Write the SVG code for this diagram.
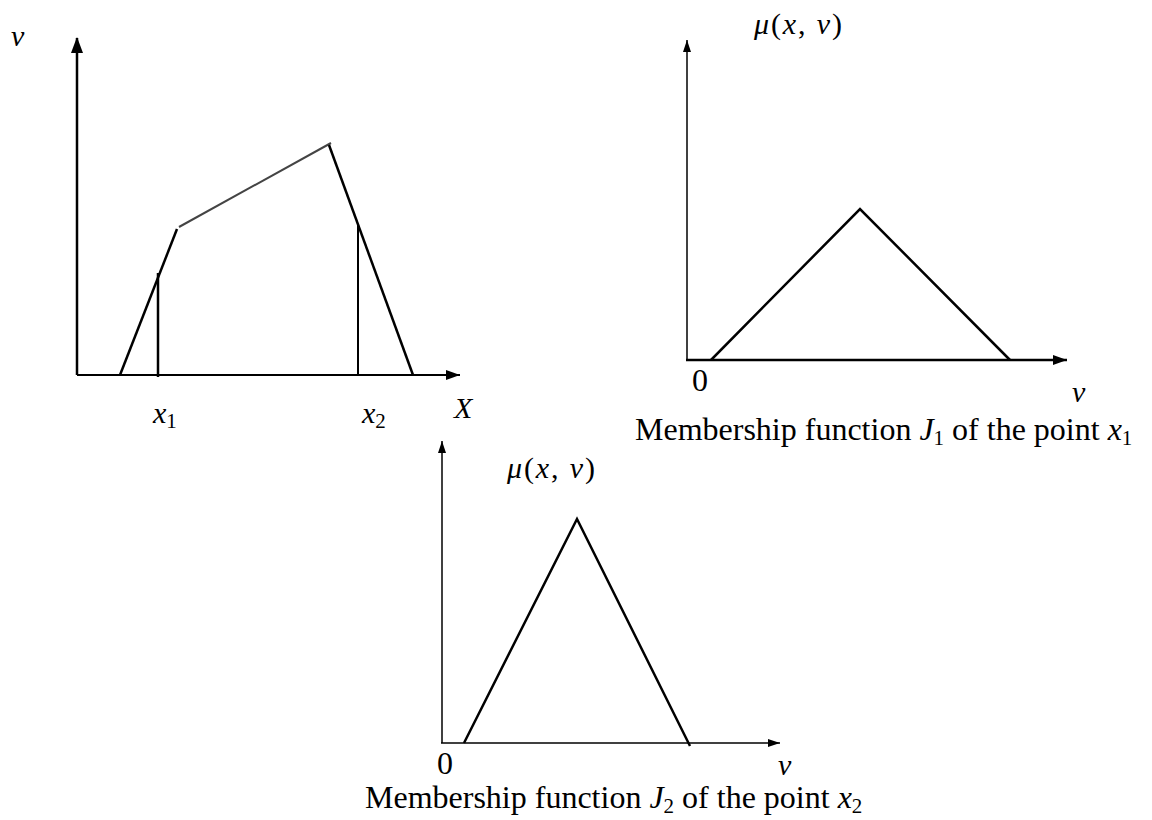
<svg xmlns="http://www.w3.org/2000/svg" width="1152" height="820" viewBox="0 0 1152 820">
<style>
  text { font-family: "Liberation Serif", "Times New Roman", serif; fill: #000; }
  .m { font-style: italic; font-size: 30px; }
  .r { font-size: 32px; }
  .sub { font-style: normal; font-size: 21px; }
  .ax { stroke: #000; fill: none; }
  .curve { stroke: #000; stroke-width: 2.5; fill: none; stroke-linecap: butt; }
</style>
<defs>
  <marker id="ahL" viewBox="0 0 16 12" refX="15" refY="6" markerWidth="16" markerHeight="12" markerUnits="userSpaceOnUse" orient="auto">
    <path d="M0,0 L16,6 L0,12 z" fill="#000"/>
  </marker>
  <marker id="ahM" viewBox="0 0 14 10" refX="14" refY="5" markerWidth="14" markerHeight="10" markerUnits="userSpaceOnUse" orient="auto">
    <path d="M0,0 L14,5 L0,10 z" fill="#000"/>
  </marker>
  <marker id="ahS" viewBox="0 0 12 8" refX="12" refY="4" markerWidth="12" markerHeight="8" markerUnits="userSpaceOnUse" orient="auto">
    <path d="M0,0 L12,4 L0,8 z" fill="#000"/>
  </marker>
</defs>

<g id="connectors">
  <!-- left chart axes -->
  <line class="ax" x1="77" y1="375" x2="77" y2="38" stroke-width="2.5" marker-end="url(#ahL)"/>
  <line class="ax" x1="77" y1="375" x2="460" y2="375" stroke-width="2" stroke="#222" marker-end="url(#ahM)"/>
  <!-- top-right chart axes -->
  <line class="ax" x1="687" y1="360" x2="687" y2="40" stroke-width="1.5" marker-end="url(#ahS)"/>
  <line class="ax" x1="686" y1="360" x2="1067" y2="360" stroke-width="2.5" marker-end="url(#ahM)"/>
  <!-- bottom chart axes -->
  <line class="ax" x1="442" y1="743" x2="442" y2="441" stroke-width="1.5" marker-end="url(#ahS)"/>
  <line class="ax" x1="441" y1="743" x2="780" y2="743" stroke-width="1.5" marker-end="url(#ahS)"/>
</g>

<g id="left-chart">
  <line class="curve" x1="120" y1="375" x2="177" y2="229"/>
  <line x1="179" y1="227" x2="331" y2="143" stroke="#444" stroke-width="2"/>
  <line class="curve" x1="329" y1="145" x2="413" y2="375"/>
  <line class="curve" x1="158" y1="273" x2="158" y2="377"/>
  <line x1="358" y1="225" x2="358" y2="375" stroke="#000" stroke-width="2"/>
  <text class="m" x="11" y="46">v</text>
  <text class="m" x="153" y="423">x<tspan class="sub" dy="5">1</tspan></text>
  <text class="m" x="362" y="423">x<tspan class="sub" dy="5">2</tspan></text>
  <text class="m" x="454" y="418">X</text>
</g>

<g id="membership-J1">
  <polyline class="curve" points="711,360 860,209 1010,360"/>
  <text class="m" x="754" y="34" textLength="88" lengthAdjust="spacing">μ<tspan font-style="normal">(</tspan>x<tspan font-style="normal">,</tspan> v<tspan font-style="normal">)</tspan></text>
  <text class="r" x="692" y="391">0</text>
  <text class="m" x="1072" y="402">v</text>
  <text class="r" x="635" y="440">Membership function <tspan font-style="italic">J</tspan><tspan class="sub" dy="5">1</tspan><tspan dy="-5"> of the point </tspan><tspan font-style="italic">x</tspan><tspan class="sub" dy="5">1</tspan></text>
</g>

<g id="membership-J2">
  <polyline class="curve" points="464,743 577,519 690,746"/>
  <text class="m" x="507" y="478" textLength="88" lengthAdjust="spacing">μ<tspan font-style="normal">(</tspan>x<tspan font-style="normal">,</tspan> v<tspan font-style="normal">)</tspan></text>
  <text class="r" x="437" y="774">0</text>
  <text class="m" x="778" y="775">v</text>
  <text class="r" x="365" y="808">Membership function <tspan font-style="italic">J</tspan><tspan class="sub" dy="5">2</tspan><tspan dy="-5"> of the point </tspan><tspan font-style="italic">x</tspan><tspan class="sub" dy="5">2</tspan></text>
</g>
</svg>
